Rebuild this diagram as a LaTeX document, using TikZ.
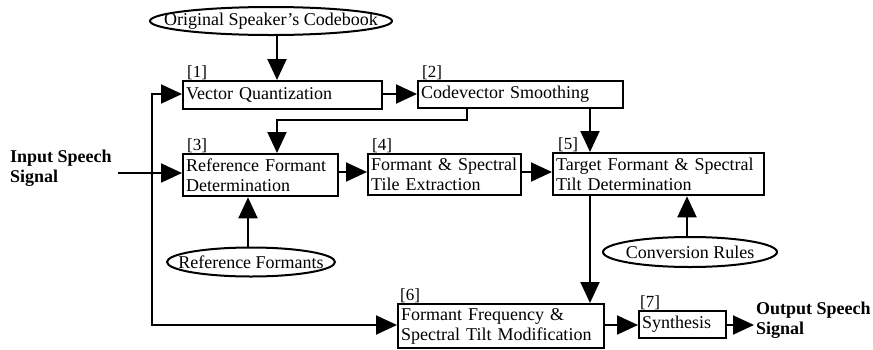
\documentclass[tikz,border=0pt]{standalone}
\usepackage{fontspec}
\setmainfont{Liberation Serif}
\usetikzlibrary{arrows.meta,shapes.geometric,calc}
\begin{document}
\begin{tikzpicture}[x=1pt,y=-1pt,
  txt/.style={font=\fontsize{18}{20}\selectfont},
  lbl/.style={font=\fontsize{17}{18}\selectfont,inner sep=0,anchor=south west},
  blk/.style={draw,line width=2.3pt,txt,align=left,inner xsep=3pt,inner ysep=0,anchor=north west,
    execute at begin node={\hyphenpenalty=10000\exhyphenpenalty=10000\hbadness=10000\hfuzz=20pt}},
  ell/.style={draw,ellipse,line width=2pt,inner sep=0},
  bld/.style={font=\fontsize{18}{20}\selectfont\bfseries,align=left,inner sep=0,anchor=north west},
  arr/.style={line width=2pt,-{Triangle[length=21pt,width=19pt]}},
  ln/.style={line width=2pt}]
\useasboundingbox (0,0) rectangle (873,349);
% boxes
\node[blk,text width=193,minimum height=28] (vq) at (182,80) {Vector Quantization};
\node[blk,text width=199,minimum height=27] (cs) at (417,80) {Codevector Smoothing};
\node[blk,text width=149,minimum height=42] (rf) at (182,153) {Reference Formant\\Determination};
\node[blk,text width=147,minimum height=41] (fs) at (367,153) {Formant \& Spectral\\Tile Extraction};
\node[blk,text width=205,minimum height=42] (tf) at (552,152) {Target Formant \& Spectral\\Tilt Determination};
\node[blk,text width=200,minimum height=44] (fm) at (397,303) {Formant Frequency \&\\Spectral Tilt Modification};
\node[blk,text width=81,minimum height=27] (sy) at (638,310) {Synthesis};
% labels
\node[lbl] (l1) at ([xshift=5]vq.north west) {[1]};
\node[lbl] (l2) at ([xshift=5]cs.north west) {[2]};
\node[lbl] (l3) at ([xshift=5]rf.north west) {[3]};
\node[lbl] (l4) at ([xshift=5]fs.north west) {[4]};
\node[lbl] (l5) at ([xshift=6]tf.north west) {[5]};
\node[lbl] (l6) at ([xshift=3]fm.north west) {[6]};
\node[lbl] (l7) at ([xshift=2]sy.north west) {[7]};
% ellipses
\node[ell,minimum width=242,minimum height=28] (cb) at (271,21) {};
\node[txt,inner sep=0] (cbt) at (cb) {Original Speaker's Codebook};
\node[ell,minimum width=168,minimum height=29] (rfe) at (251,262) {};
\node[txt,inner sep=0] (rfet) at (rfe) {Reference Formants};
\node[ell,minimum width=174,minimum height=30] (cre) at (690,252) {};
\node[txt,inner sep=0] (cret) at (cre) {Conversion Rules};
% input / output text
\node[bld] (in) at (10,150) {Input Speech\\Signal};
\node[bld] (out) at (756,302) {Output Speech\\Signal};
\coordinate (split) at (152,173);
\coordinate (outend) at (754,325);
% connectors
\draw[arr] ([xshift=6]cb.south) -- ([xshift=6]cb.south |- vq.north);
\draw[arr] (vq.east |- 0,94) -- (cs.west |- 0,94);
\draw[arr] (cs.south -| 467,0) -- (467,120) -- (277,120) -- (277,120 |- rf.north);
\draw[arr] (cs.south -| 590,0) -- (590,0 |- tf.north);
\draw[ln] (118,173) -- (split);
\draw[arr] (split) -- (rf.west |- split);
\draw[arr] (152,94) -- (vq.west |- 0,94);
\draw[ln] (152,93) -- (152,325);
\draw[arr] (151,325) -- (fm.west |- 0,325);
\draw[arr] (rf.east |- 0,172) -- (fs.west |- 0,172);
\draw[arr] (fs.east |- 0,172) -- (tf.west |- 0,172);
\draw[arr] (rfe.north -| 248,0) -- (248,0 |- rf.south);
\draw[arr] (cre.north -| 687,0) -- (687,0 |- tf.south);
\draw[arr] (tf.south -| 590,0) -- (590,0 |- fm.north);
\draw[arr] (fm.east |- 0,325) -- (sy.west |- 0,325);
\draw[arr] (sy.east |- 0,325) -- (outend);
\end{tikzpicture}
\end{document}
